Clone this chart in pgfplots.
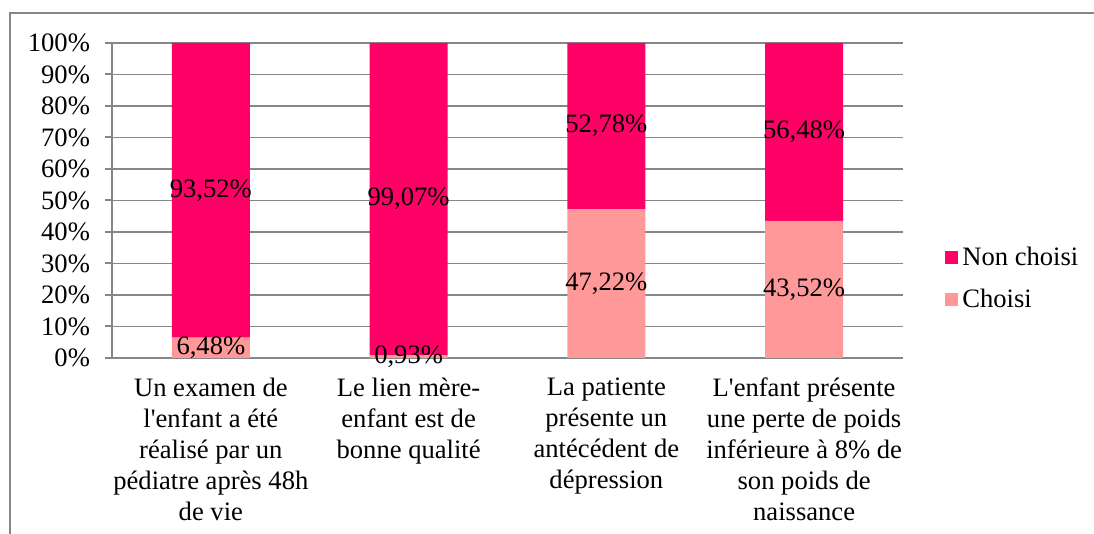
\documentclass[border=0pt]{standalone}
\usepackage{pgfplots}
\pgfplotsset{compat=1.18}
\usepackage{fontspec}
\setmainfont{Liberation Serif}[Ligatures=TeXOff]
\definecolor{nonch}{HTML}{FF0066}
\definecolor{ch}{HTML}{FF9999}
\definecolor{gridc}{HTML}{868686}
\newcommand{\lf}{\fontsize{13.3}{15.5}\selectfont}
\begin{document}
\begin{tikzpicture}
\useasboundingbox (0,0) rectangle (547pt,267pt);
\draw[gridc, line width=1pt] (5pt,0) -- (5pt,260.5pt) -- (547pt,260.5pt);
\begin{axis}[
  at={(56pt,88pt)}, anchor=south west,
  scale only axis, width=395.5pt, height=157.5pt,
  ybar stacked, bar width=39pt,
  xmin=-0.5, xmax=3.5, ymin=0, ymax=100,
  axis x line*=bottom, axis y line*=left,
  axis line style={gridc, line width=1pt, -},
  xtick={0,1,2,3},
  xticklabels={{Un examen de\\l'enfant a été\\réalisé par un\\pédiatre après 48h\\de vie},
                {Le lien mère-\\enfant est de\\bonne qualité},
                {La patiente\\présente un\\antécédent de\\dépression},
                {L'enfant présente\\une perte de poids\\inférieure à 8\% de\\son poids de\\naissance}},
  xticklabel style={align=center, font=\lf, anchor=north, yshift=-3pt},
  x tick style={draw=none},
  minor xtick={-0.5,0.5,1.5,2.5,3.5},
  minor x tick style={gridc, line width=1pt},
  minor tick length=3.5pt,
  ytick={0,10,...,100},
  yticklabel={\pgfmathprintnumber{\tick}\%},
  /pgf/number format/assume math mode=true,
  yticklabel style={font=\lf, xshift=-4pt},
  y tick style={gridc, line width=1pt},
  major tick length=3.5pt,
  tick align=outside,
  ymajorgrids, grid style={gridc, line width=0.8pt},
  nodes near coords,
  point meta=explicit symbolic,
  every node near coord/.append style={anchor=center, font=\lf, text=black},
  reverse legend,
  legend cell align=left,
  legend style={draw=none, fill=none, font=\lf, at={(1.053,0.252)}, anchor=west,
     row sep=6.5pt, inner sep=0pt},
  legend image code/.code={\fill[#1] (0pt,-3.25pt) rectangle (6.5pt,3.25pt);},
  clip=false,
]
\addplot[fill=ch, draw=none] coordinates {(0,6.48) [6,48\%] (1,0.93) [0,93\%] (2,47.22) [47,22\%] (3,43.52) [43,52\%]};
\addplot[fill=nonch, draw=none] coordinates {(0,93.52) [93,52\%] (1,99.07) [99,07\%] (2,52.78) [52,78\%] (3,56.48) [56,48\%]};
\legend{Choisi, Non choisi}
\end{axis}
\end{tikzpicture}
\end{document}
